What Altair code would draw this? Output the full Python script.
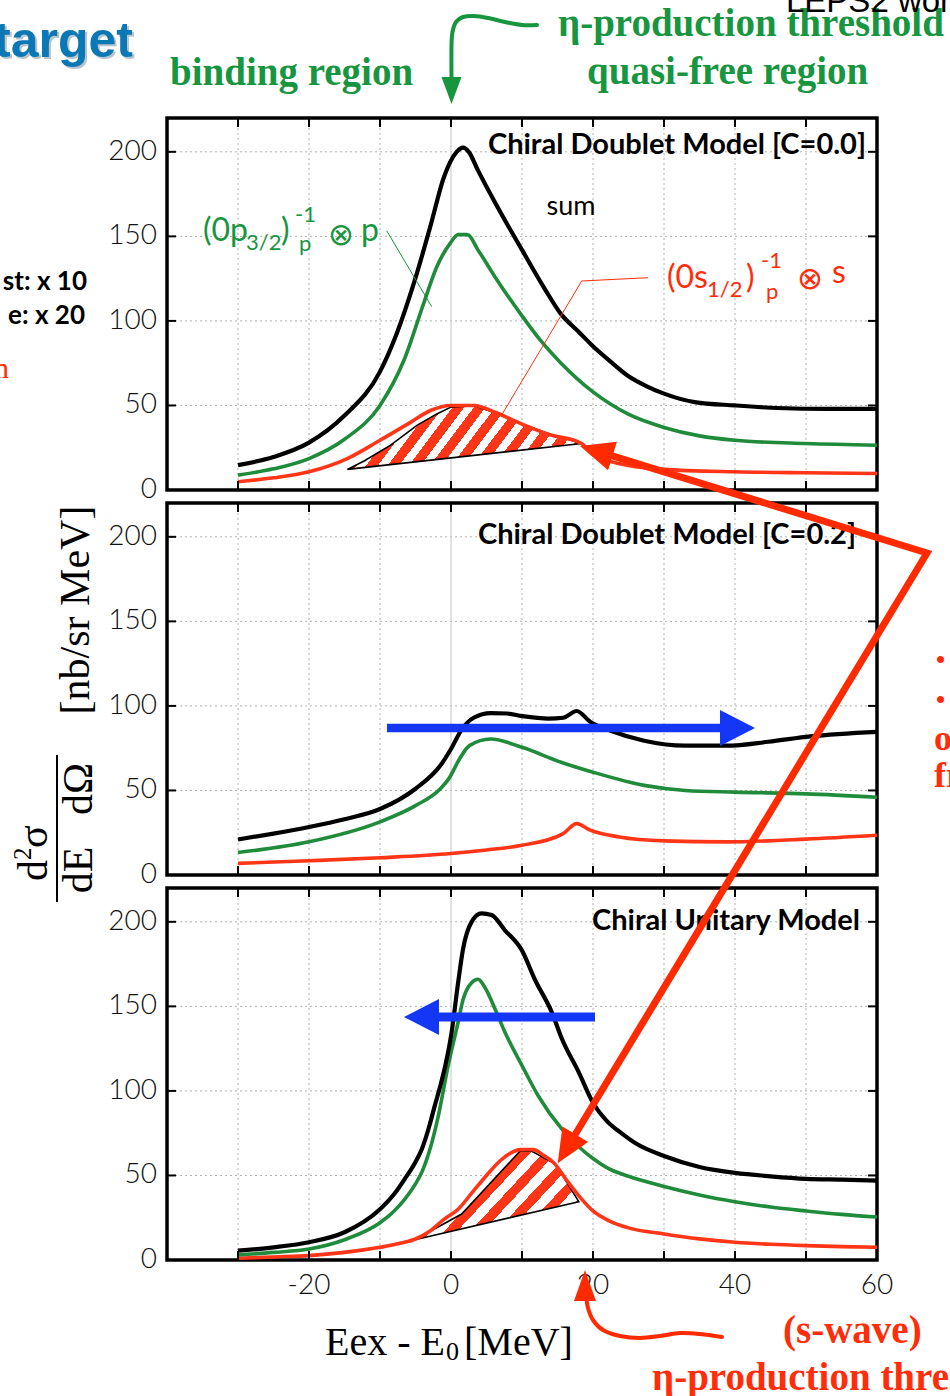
import math
import altair as alt
import pandas as pd

# ---------------- values ----------------
# x : Eex - E0 [MeV]     y : d2sigma / dE dOmega [nb/sr MeV]

# Panel 1 : Chiral Doublet Model [C=0.0]
p1_sum_x = [-30, -25, -20, -15, -10, -7.6, -5.25, -2.9, -1, 0.8, 1.7, 2.5, 3.8, 6.2, 10, 13.2, 15.5, 18, 20, 22.6, 24.9, 27.5, 30, 34.3, 40, 46, 53, 60]
p1_sum_y = [14.7, 19.5, 28, 44, 70, 93, 122, 156, 185, 200, 202.5, 200, 189, 170, 142, 119, 104, 93.5, 85, 75.5, 67.6, 61.5, 57, 52, 50, 48.5, 48, 48]
p1_p_x = [-30, -25, -20, -15, -10, -6.6, -3.8, -2, -0.1, 1.0, 2.3, 3.8, 6.2, 10, 12.7, 15.5, 20, 24.9, 30, 35, 40, 50, 60]
p1_p_y = [8.8, 12.5, 18.6, 30, 50, 77, 111, 132, 146, 151, 151, 142, 126, 103, 88, 75, 58, 45, 37, 32, 29.4, 27.5, 26.5]
p1_s_x = [-30, -25, -20, -14.6, -10, -5.7, -2.9, 0, 3.3, 6.2, 10, 13.7, 18.4, 20, 22, 25, 30, 40, 50, 60]
p1_s_y = [4.9, 7.2, 10.8, 18.6, 29.4, 40, 47, 50, 50, 46, 39, 33, 27.5, 21, 17.5, 14.5, 12.2, 10.8, 10.2, 9.8]
p1_hatch_x = [-14.6, -12.3, -8.5, -4.8, -2, 0, 3.3, 6, 10, 14, 18.4]
p1_hatch_y = [12.2, 17, 26.5, 38.2, 45, 49, 49.8, 46, 39, 33, 27.5]

# Panel 2 : Chiral Doublet Model [C=0.2]
p2_sum_x = [-30, -25, -20, -15, -10, -5, -1.5, 0, 1.5, 3.2, 5.6, 7.9, 10, 13.7, 15.8, 17.7, 19.6, 22.5, 27.2, 33, 38.9, 44.7, 50.6, 60]
p2_sum_y = [21, 24.5, 28.4, 33, 39, 51, 64.7, 74.5, 86, 93, 95.7, 95.5, 94, 92.5, 93, 97, 90.6, 85.3, 79.4, 76.5, 76.5, 78.8, 82, 84.7]
p2_p_x = [-30, -20, -10, -5, -1.5, -0.3, 1.2, 2.6, 5.6, 10, 15.5, 20, 27.2, 33, 40, 50, 60]
p2_p_y = [13.3, 19.6, 31.4, 41, 51, 57, 68.6, 76.5, 80.4, 75.5, 66.7, 60.8, 53, 50, 49, 48, 46]
p2_s_x = [-30, -20, -10, 0, 5, 10, 15.8, 17.7, 19.6, 23.7, 30, 38.9, 50, 60]
p2_s_y = [6.9, 8.4, 10.2, 12.7, 14.8, 17.6, 24.5, 30.4, 26.5, 22.5, 20.2, 19.6, 21.2, 23.5]

# Panel 3 : Chiral Unitary Model
p3_sum_x = [-30, -25, -20, -15, -10, -8, -6.5, -5, -4.1, -3, -2.3, -1.5, -0.8, 0.1, 1.0, 1.7, 2.9, 4.3, 5.7, 7.6, 10, 11.8, 14.2, 15.6, 18, 20, 22, 24, 26, 30, 35, 40, 45, 50, 55, 60]
p3_sum_y = [5.5, 7.5, 10.5, 16.4, 30, 39, 48, 58, 65.7, 80, 91, 103, 115, 135, 164, 184, 200, 205, 204, 195, 183, 166, 146.5, 131, 111, 93, 82, 75, 69, 61.5, 55, 51.5, 49.5, 48, 47.5, 47]
p3_p_x = [-30, -25, -20, -15, -10, -8, -6.5, -5, -4.1, -3, -1.8, -0.4, 1.0, 1.7, 2.9, 3.8, 4.8, 6.2, 7.6, 10, 12.3, 15.6, 18, 20, 22.2, 25, 30, 35, 40, 45, 50, 55, 60]
p3_p_y = [3, 4.5, 6.5, 12, 22, 29, 36, 45, 52, 65, 85, 115, 140.6, 154, 164, 166, 161, 148.5, 134.7, 115, 97, 77.5, 67, 60, 54, 49.5, 43.5, 38.5, 34.5, 31.3, 29, 27, 25.4]
p3_s_x = [-30, -25, -20, -15, -10, -7, -5, -3, -1, 1, 3, 5, 7, 8.5, 9.7, 11.6, 13, 14.4, 16.5, 18.4, 20, 22.2, 25, 30, 35, 40, 45, 50, 55, 60]
p3_s_y = [1.0, 1.8, 2.6, 4.5, 7.5, 10, 12.4, 17, 24, 30, 40, 50, 59, 63.5, 65.3, 65.3, 62, 57.8, 46, 36, 29, 23.3, 19, 15.4, 12.5, 10.5, 9.3, 8.5, 7.9, 7.5]
p3_hatch_x = [-5.1, 1.5, 9.7, 11.4, 14.7, 18.0]
p3_hatch_y = [12, 27.2, 64.3, 64.3, 56.8, 34.5]

x_grid = [-30, -20, -10, 10, 20, 30, 40, 50]
x_ticks = [-30, -20, -10, 0, 10, 20, 30, 40, 50]
x_label_values = [-20, 0, 20, 40, 60]
x_label_text = ['-20', '0', '20', '40', '60']
y_ticks = [50, 100, 150, 200]
y_label_values = [0, 50, 100, 150, 200]
y_label_text = ['0', '50', '100', '150', '200']

# ---------------- layout / style ----------------
W, H = 710, 372
XMIN, XMAX = -40, 60
YMIN, YMAX = 0, 220
LEFT = 167
TOPS = [118, 503, 888]
KX = W / (XMAX - XMIN)
KY = H / (YMAX - YMIN)

GREEN = '#1f8b3b'
RED = '#ff3517'
GREEN_T = '#17953f'
RED_T = '#ff2d0a'
BLUE = '#1436f5'
ARED = '#ff2a00'
SERIF = 'Liberation Serif'

XS = alt.Scale(domain=[XMIN, XMAX], nice=False, zero=False)
YS = alt.Scale(domain=[YMIN, YMAX], nice=False, zero=False)


def dx(px):
    return XMIN + (px - LEFT) / KX


def dy(py, k):
    return YMAX - (py - TOPS[k]) / KY


def xq():
    return alt.X('x:Q', scale=XS, axis=None)


def yq():
    return alt.Y('y:Q', scale=YS, axis=None)


def curve(xs, ys, color, width):
    df = pd.DataFrame({'x': xs, 'y': ys})
    return alt.Chart(df).mark_line(color=color, strokeWidth=width, interpolate='monotone',
                                   strokeJoin='round').encode(x=xq(), y=yq())


def text(t, px, py, k, size, color='black', font='Lato', weight='normal', align='left', angle=0,
         baseline='alphabetic', opacity=1.0):
    df = pd.DataFrame({'x': [dx(px)], 'y': [dy(py, k)], 't': [t]})
    m = dict(font=font, fontSize=size, color=color, fontWeight=weight, align=align,
             baseline=baseline, opacity=opacity)
    if angle:
        m['angle'] = angle
    return alt.Chart(df).mark_text(**m).encode(x=xq(), y=yq(), text='t:N')


def polyline(pts, k, color, width, interp='linear', cap='butt', join='miter'):
    df = pd.DataFrame({'x': [dx(p[0]) for p in pts], 'y': [dy(p[1], k) for p in pts],
                       'o': list(range(len(pts)))})
    return alt.Chart(df).mark_line(color=color, strokeWidth=width, interpolate=interp,
                                   strokeCap=cap, strokeJoin=join).encode(
        x=xq(), y=yq(), order='o:Q')


def head(px, py, k, length, width, angle, color):
    r = width / length
    path = f"M0,0L{r:.3f},2L{-r:.3f},2Z"
    df = pd.DataFrame({'x': [dx(px)], 'y': [dy(py, k)]})
    return alt.Chart(df).mark_point(shape=path, size=length ** 2, angle=angle % 360, filled=True,
                                    color=color, opacity=1, strokeWidth=0).encode(x=xq(), y=yq())


def direction(a, b):
    vx, vy = b[0] - a[0], b[1] - a[1]
    n = math.hypot(vx, vy)
    return vx / n, vy / n


def arrow(tail, tip, k, color, w, hl, hw):
    ux, uy = direction(tail, tip)
    end = (tip[0] - ux * hl * 0.8, tip[1] - uy * hl * 0.8)
    ang = math.degrees(math.atan2(ux, -uy))
    return [polyline([tail, end], k, color, w), head(tip[0], tip[1], k, hl, hw, ang, color)]


def stripes(Wp, Hp, theta, period, frac, col, bg='white'):
    s, c = math.sin(math.radians(theta)), math.cos(math.radians(theta))
    L = Wp * s + Hp * c
    kk = L / ((Wp * s) ** 2 + (Hp * c) ** 2)
    x2, y2 = Wp * s * kk, Hp * c * kk
    p = period / L
    stops = []
    t = 0.0
    while t < 1 - 1e-9:
        b = min(t + frac * p, 1.0)
        e = min(t + p, 1.0)
        stops += [{'offset': round(t, 5), 'color': col}, {'offset': round(b, 5), 'color': col},
                  {'offset': round(b, 5), 'color': bg}, {'offset': round(e, 5), 'color': bg}]
        t += p
    return {'gradient': 'linear', 'x1': 0, 'y1': 0, 'x2': round(x2, 5), 'y2': round(y2, 5),
            'stops': stops}


def hatch_layers(hx, hy, theta, period, frac):
    x0, y0, x1, y1 = hx[0], hy[0], hx[-1], hy[-1]
    base = [y0 + (x - x0) * (y1 - y0) / (x1 - x0) for x in hx]
    Wp = (max(hx) - min(hx)) * KX
    Hp = (max(hy) - min(base + hy)) * KY
    grad = stripes(Wp, Hp, theta, period, frac, RED)
    area = alt.Chart(pd.DataFrame({'x': hx, 'y': hy, 'y2': base})).mark_area(
        fill=grad, opacity=1, strokeWidth=0).encode(x=xq(), y=yq(), y2='y2:Q')
    ox, oy = hx + [hx[0]], hy + [hy[0]]
    outline = alt.Chart(pd.DataFrame({'x': ox, 'y': oy, 'o': list(range(len(ox)))})).mark_line(
        color='black', strokeWidth=1.6, strokeJoin='miter').encode(x=xq(), y=yq(), order='o:Q')
    return [area, outline]


def grid_layers(xlabels):
    g = dict(color='#b0b0b0', strokeWidth=1, strokeDash=[2, 3])
    L = [
        alt.Chart(pd.DataFrame({'x': x_grid})).mark_rule(**g).encode(x=xq()),
        alt.Chart(pd.DataFrame({'y': y_ticks})).mark_rule(**g).encode(y=yq()),
        alt.Chart(pd.DataFrame({'x': [0]})).mark_rule(color='#c4c4c4', strokeWidth=1).encode(x=xq()),
    ]
    ylab = pd.DataFrame({'y': y_label_values, 't': y_label_text})
    L.append(alt.Chart(ylab).mark_text(align='right', baseline='middle', font='Lato', fontSize=28,
                                       fontWeight=300, color='#111').encode(
        y=yq(), x=alt.value(-10), text='t:N'))
    if xlabels:
        xlab = pd.DataFrame({'x': x_label_values, 't': x_label_text})
        L.append(alt.Chart(xlab).mark_text(align='center', baseline='top', font='Lato', fontSize=28,
                                           fontWeight=300, color='#111').encode(
            x=xq(), y=alt.value(H + 12), text='t:N'))
    return L


def tick_layers():
    tx = pd.DataFrame({'x': x_ticks})
    ty = pd.DataFrame({'y': y_ticks})
    st = dict(color='black', strokeWidth=2)
    return [
        alt.Chart(tx).mark_rule(**st).encode(x=xq(), y=alt.value(H), y2=alt.value(H - 9)),
        alt.Chart(tx).mark_rule(**st).encode(x=xq(), y=alt.value(0), y2=alt.value(9)),
        alt.Chart(ty).mark_rule(**st).encode(y=yq(), x=alt.value(0), x2=alt.value(9)),
        alt.Chart(ty).mark_rule(**st).encode(y=yq(), x=alt.value(W), x2=alt.value(W - 9)),
    ]


def base_layers(sx, sy, px_, py_, rx, ry, hatch, xlabels):
    L = grid_layers(xlabels)
    if hatch:
        L += hatch_layers(*hatch)
    L.append(curve(rx, ry, RED, 3.6))
    L.append(curve(px_, py_, GREEN, 3.6))
    L.append(curve(sx, sy, 'black', 4.2))
    L += tick_layers()
    return L


# ---------------- panel 1 ----------------
L1 = base_layers(p1_sum_x, p1_sum_y, p1_p_x, p1_p_y, p1_s_x, p1_s_y,
                 (p1_hatch_x, p1_hatch_y, 53, 17, 0.55), False)
L1 += [
    text('Chiral Doublet Model [C=0.0]', 866, 154, 0, 29, weight='bold', align='right'),
    text('sum', 571, 215, 0, 27, align='center'),
    text('(0p', 203, 241, 0, 32, GREEN_T),
    text('3/2', 246, 250, 0, 22, GREEN_T),
    text(')', 281, 241, 0, 32, GREEN_T),
    text('-1', 295, 222, 0, 22, GREEN_T),
    text('p', 299, 251, 0, 22, GREEN_T),
    text('\u2297', 328, 245, 0, 31, GREEN_T, font='DejaVu Sans'),
    text('p', 361, 241, 0, 32, GREEN_T),
    polyline([(386.7, 230.7), (431.7, 306.7)], 0, GREEN_T, 1),
    text('(0s', 667, 288, 0, 32, RED_T),
    text('1/2', 707, 297, 0, 22, RED_T),
    text(')', 746, 288, 0, 32, RED_T),
    text('-1', 761, 268, 0, 22, RED_T),
    text('p', 766, 299, 0, 22, RED_T),
    text('\u2297', 797, 289, 0, 31, RED_T, font='DejaVu Sans'),
    text('s', 832, 283, 0, 32, RED_T),
    polyline([(648, 277.7), (581.7, 281), (501.7, 415)], 0, RED_T, 1),
    text('binding region', 170, 85, 0, 39, GREEN_T, font=SERIF, weight='bold'),
    text('\u03b7-production threshold', 558, 36, 0, 39, GREEN_T, font=SERIF, weight='bold'),
    text('quasi-free region', 587, 84, 0, 39, GREEN_T, font=SERIF, weight='bold'),
    polyline([(537, 25), (522, 25), (505, 22), (488, 18), (474, 16), (463, 17), (456, 22),
              (452.5, 32), (451.5, 45), (451.5, 82)], 0, GREEN_T, 4, interp='cardinal', cap='round'),
    head(451.5, 104, 0, 27, 20, 180, GREEN_T),
    text('target', 135, 59, 0, 50, '#b9c4cc', font='Liberation Sans', weight='bold', align='right'),
    text('target', 133, 57, 0, 50, '#0b78b6', font='Liberation Sans', weight='bold', align='right'),
    text('st: x 10', 87, 290, 0, 26, weight='bold', align='right'),
    text('e: x 20', 85, 324, 0, 26, weight='bold', align='right'),
    text('n', 9, 378, 0, 30, RED_T, font=SERIF, align='right'),
    text('LEPS2 workshop', 786, 12, 0, 33, font='Liberation Sans'),
]

# ---------------- panel 2 ----------------
L2 = base_layers(p2_sum_x, p2_sum_y, p2_p_x, p2_p_y, p2_s_x, p2_s_y, None, False)
L2 += [text('Chiral Doublet Model [C=0.2]', 856, 544, 1, 29, weight='bold', align='right')]
L2 += arrow((387, 728), (755, 728), 1, BLUE, 8.5, 35, 36)
L2 += [
    text('[nb/sr MeV]', 89, 610, 1, 42, font=SERIF, align='center', angle=270),
    text('dE\u2002 d\u03a9', 92, 828, 1, 42, font=SERIF, align='center', angle=270),
    polyline([(57, 755), (57, 902)], 1, 'black', 2),
    text('d', 47, 881, 1, 42, font=SERIF, angle=270),
    text('2', 31, 860, 1, 25, font=SERIF, angle=270),
    text('\u03c3', 47, 848, 1, 42, font=SERIF, angle=270),
    text('\u2022', 936, 668, 1, 26, RED_T, font=SERIF, weight='bold'),
    text('\u2022', 936, 708, 1, 26, RED_T, font=SERIF, weight='bold'),
    text('of', 934, 750, 1, 36, RED_T, font=SERIF, weight='bold'),
    text('from', 934, 787, 1, 36, RED_T, font=SERIF, weight='bold'),
]

# ---------------- panel 3 ----------------
L3 = base_layers(p3_sum_x, p3_sum_y, p3_p_x, p3_p_y, p3_s_x, p3_s_y,
                 (p3_hatch_x, p3_hatch_y, 47, 19, 0.5), True)
L3 += [text('Chiral Unitary Model', 860, 930, 2, 29, weight='bold', align='right')]
L3 += arrow((595, 1017), (404, 1017), 2, BLUE, 9, 35, 36)
L3 += [
    text('Eex - E', 325, 1355, 2, 40, font=SERIF),
    text('0', 446, 1360, 2, 26, font=SERIF),
    text('[MeV]', 464, 1355, 2, 40, font=SERIF),
    text('(s-wave)', 783, 1343, 2, 39, RED_T, font=SERIF, weight='bold'),
    text('\u03b7-production threshold', 652, 1390, 2, 39, RED_T, font=SERIF, weight='bold'),
    polyline([(722, 1337), (700, 1334), (680, 1333), (660, 1336), (640, 1338), (620, 1336),
              (603, 1330), (593, 1320), (588, 1308), (586, 1294)], 2, ARED, 4,
             interp='cardinal', cap='round'),
    head(585, 1270, 2, 31, 22, 0, ARED),
]
# big red V arrows (drawn last, on top)
apex = (927, 553)
tip1 = (580, 446)
tip2 = (557.7, 1163.3)
u1 = direction(apex, tip1)
u2 = direction(apex, tip2)
e1 = (tip1[0] - u1[0] * 27, tip1[1] - u1[1] * 27)
e2 = (tip2[0] - u2[0] * 27, tip2[1] - u2[1] * 27)
L3 += [
    polyline([e1, apex, e2], 2, ARED, 7),
    head(tip1[0], tip1[1], 2, 34, 30, math.degrees(math.atan2(u1[0], -u1[1])), ARED),
    head(tip2[0], tip2[1], 2, 34, 30, math.degrees(math.atan2(u2[0], -u2[1])), ARED),
]

P1 = alt.layer(*L1).properties(width=W, height=H)
P2 = alt.layer(*L2).properties(width=W, height=H)
P3 = alt.layer(*L3).properties(width=W, height=H)

chart = alt.vconcat(P1, P2, P3, spacing=13, bounds='flush').properties(
    background='white',
    autosize=alt.AutoSizeParams(type='none'),
    padding={'left': LEFT, 'top': TOPS[0], 'right': 950 - LEFT - W, 'bottom': 1396 - TOPS[0]},
).configure_view(stroke='black', strokeWidth=3.5)

chart.save('out.html', embed_options={'renderer': 'svg', 'actions': False})
